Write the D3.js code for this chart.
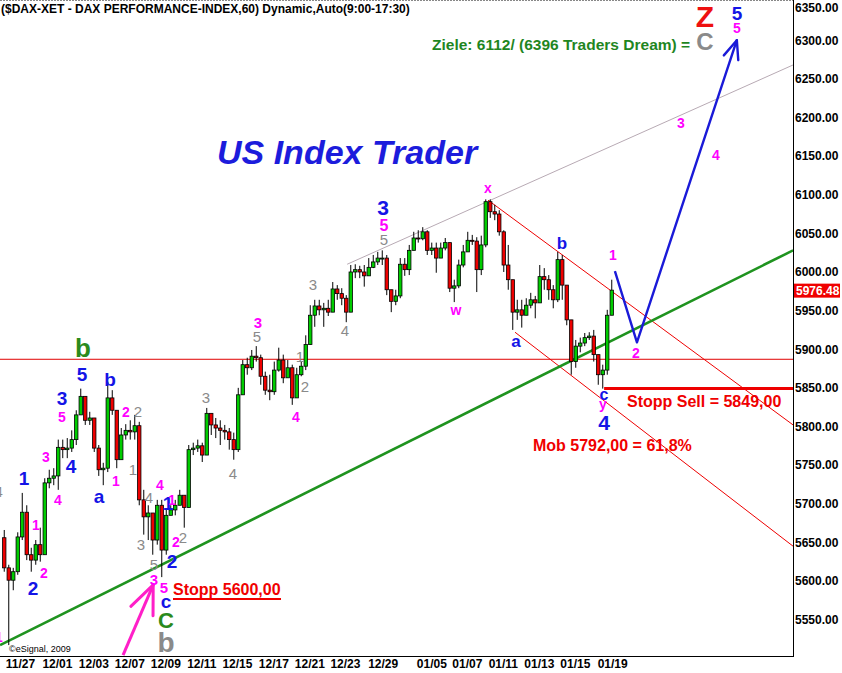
<!DOCTYPE html>
<html><head><meta charset="utf-8">
<script src="https://cdn.jsdelivr.net/npm/d3@7/dist/d3.min.js"></script>
<style>
body{margin:0;background:#fff}
svg{display:block}
text{font-family:Arial,"Liberation Sans",sans-serif}
</style>
</head><body>
<svg id="chart" width="842" height="673"></svg>
<script>
// ---------- DATA (hourly candles, DAX) ----------
const opens=[5656,5617,5601,5612,5657,5689,5634,5627,5647,5634,
5727,5733,5736,5773,5770,5772,5783,5815,5839,5808,
5811,5772,5744,5746,5837,5821,5757,5789,5795,5793,
5801,5705,5683,5688,5653,5698,5640,5685,5692,5698,
5711,5695,5770,5772,5775,5763,5817,5802,5798,5795,
5793,5783,5770,5841,5880,5876,5891,5889,5865,5847,
5845,5873,5886,5863,5876,5837,5867,5878,5906,5944,
5956,5951,5953,5948,5978,5972,5966,5948,6000,6003,
6000,5995,6006,6013,6018,6018,5977,5962,5969,6010,
6003,6028,6044,6043,6052,6028,6031,6018,6031,6038,
5979,5982,6009,6026,6041,6040,6003,6035,6091,6078,
6075,6052,6009,5990,5948,5951,5944,5957,5964,5960,
5994,5990,5977,5964,6016,5983,5938,5884,5904,5908,
5915,5917,5893,5867,5873,5944];
const highs=[5666,5621,5617,5663,5714,5698,5643,5653,5669,5733,
5744,5746,5783,5783,5785,5795,5821,5849,5834,5819,
5808,5776,5753,5858,5847,5819,5798,5803,5808,5815,
5806,5718,5698,5679,5705,5705,5692,5698,5705,5718,
5711,5776,5779,5783,5779,5824,5815,5811,5808,5802,
5798,5792,5850,5886,5889,5899,5904,5893,5871,5867,
5884,5902,5893,5886,5880,5876,5884,5918,5957,5964,
5964,5960,5964,5987,5983,5979,5970,6009,6010,6008,
6009,6018,6022,6026,6028,6022,5977,5977,6018,6018,
6035,6052,6054,6058,6054,6038,6038,6038,6044,6038,
5990,6016,6035,6052,6048,6045,6047,6094,6094,6087,
6080,6054,6035,5983,5964,5964,5966,5973,5969,6009,
6005,5996,5983,6026,6022,5970,5938,5912,5915,5921,
5922,5925,5893,5880,5951,5990];
const lows=[5612,5517,5588,5608,5653,5627,5612,5621,5625,5634,
5720,5724,5718,5759,5759,5767,5776,5815,5802,5802,
5767,5736,5724,5741,5815,5746,5772,5783,5783,5783,
5698,5660,5653,5634,5647,5605,5634,5685,5685,5698,
5669,5698,5763,5767,5754,5802,5789,5785,5776,5783,
5770,5757,5767,5845,5867,5873,5884,5854,5841,5834,
5841,5871,5856,5863,5828,5858,5865,5873,5916,5929,
5944,5929,5943,5964,5964,5957,5935,5948,5992,5992,
5981,6000,6005,6009,6009,5970,5948,5957,5966,5995,
5996,6028,6038,6041,6022,6022,5999,6022,6028,5974,
5961,5979,6006,6026,6035,5974,5996,6032,6070,6067,
6047,6000,5977,5925,5938,5928,5948,5953,5940,5983,
5977,5964,5953,5961,5964,5931,5867,5876,5896,5904,
5912,5884,5854,5849,5867,5944];
const closes=[5617,5601,5612,5657,5689,5634,5627,5647,5634,5727,
5733,5736,5773,5770,5772,5783,5815,5839,5808,5811,
5772,5744,5746,5837,5821,5757,5789,5795,5793,5801,
5705,5683,5688,5653,5698,5640,5685,5692,5698,5711,
5695,5770,5772,5775,5763,5817,5802,5798,5795,5793,
5783,5770,5841,5880,5876,5891,5889,5865,5847,5845,
5873,5886,5863,5876,5837,5867,5878,5906,5944,5956,
5951,5953,5948,5978,5972,5966,5948,6000,6003,6000,
5995,6006,6013,6018,6018,5977,5962,5969,6010,6003,
6028,6044,6043,6052,6028,6031,6018,6031,6038,5979,
5982,6009,6026,6041,6040,6003,6035,6091,6078,6075,
6052,6009,5990,5948,5951,5944,5957,5964,5960,5994,
5990,5977,5964,6016,5983,5938,5884,5904,5908,5915,
5917,5893,5867,5873,5944,5976.48];

const priceTicks=[5550,5600,5650,5700,5750,5800,5850,5900,5950,6000,6050,6100,6150,6200,6250,6300,6350];
const dateLabels=["11/27","12/01","12/03","12/07","12/09","12/11","12/15","12/17","12/21","12/23","12/29","01/05","01/07","01/11","01/13","01/15","01/19"];
const dateBars=[4.0,12.2,20.3,28.3,36.3,44.3,52.2,60.3,68.3,76.2,84.6,95.4,103.3,111.3,119.3,127.3,135.6];

const lastPrice=5976.48;
const stopSell=5849;
const horizLevel=5887;
// trend / channel lines in [bar, value] coordinates
const greenTrend=[[-0.44,5517],[175.8,6028]];
const grayChannel=[[76.7,6010],[175.8,6268]];
const redUpper=[[108,6093],[175.8,5802]];
const redLower=[[114,5922],[175.8,5645]];
const stopSellStart=133.8;
const projection=[[136.2,6001],[141.1,5909],[163.3,6300]];
const pinkArrow=[[26.9,5504],[33.6,5595]];

// ---------- LAYOUT ----------
const plotR=793, plotB=656;
const svg=d3.select("#chart");
const x=d3.scaleLinear().domain([0,136]).range([2,614]);
const y=d3.scaleLinear().domain([5550,6350]).range([619.6,1.6]);

svg.append("rect").attr("width",842).attr("height",673).attr("fill","#fff");
svg.append("defs").append("clipPath").attr("id","plot")
  .append("rect").attr("x",0).attr("y",0).attr("width",plotR).attr("height",plotB);

const g=svg.append("g").attr("clip-path","url(#plot)");

// horizontal red level
g.append("line").attr("x1",0).attr("x2",plotR).attr("y1",y(horizLevel)).attr("y2",y(horizLevel))
  .attr("stroke","#e00000").attr("stroke-width",1);

const line=d3.line().x(d=>x(d[0])).y(d=>y(d[1]));
g.append("path").attr("d",line(grayChannel)).attr("fill","none").attr("stroke","#b8aab4").attr("stroke-width",1);
g.append("path").attr("d",line(redUpper)).attr("fill","none").attr("stroke","#ee0000").attr("stroke-width",1);
g.append("path").attr("d",line(redLower)).attr("fill","none").attr("stroke","#ee0000").attr("stroke-width",1);
g.append("path").attr("d",line(greenTrend)).attr("fill","none").attr("stroke","#1f931f").attr("stroke-width",2.6);

// stop sell thick line
g.append("line").attr("x1",x(stopSellStart)).attr("x2",plotR).attr("y1",y(stopSell)).attr("y2",y(stopSell))
  .attr("stroke","#ee0000").attr("stroke-width",3);

// candles
const bars=closes.map((c,i)=>({i,o:opens[i],h:highs[i],l:lows[i],c}));
const cg=g.append("g");
const bw=3.4;
cg.selectAll("line.w").data(bars).join("line").attr("class","w")
  .attr("x1",d=>x(d.i+0.5)).attr("x2",d=>x(d.i+0.5))
  .attr("y1",d=>y(Math.max(d.h,d.o,d.c))).attr("y2",d=>y(Math.min(d.l,d.o,d.c)))
  .attr("stroke","#000").attr("stroke-width",1);
cg.selectAll("rect.b").data(bars).join("rect").attr("class","b")
  .attr("x",d=>x(d.i+0.5)-bw/2).attr("width",bw)
  .attr("y",d=>y(Math.max(d.o,d.c)))
  .attr("height",d=>Math.max(1,Math.abs(y(d.o)-y(d.c))))
  .attr("fill",d=>d.c>=d.o?"#00cc00":"#ee0000")
  .attr("stroke","#000").attr("stroke-width",0.8);

// arrows
function arrow(pts,color,width,barb,ang){
  g.append("path").attr("d",line(pts)).attr("fill","none").attr("stroke",color)
   .attr("stroke-width",width).attr("stroke-linejoin","round");
  const a=pts[pts.length-1], b=pts[pts.length-2];
  const tx=x(a[0]),ty=y(a[1]),bx=x(b[0]),by=y(b[1]);
  const th=Math.atan2(by-ty,bx-tx);
  [ang,-ang].forEach(s=>{
    g.append("line").attr("x1",tx).attr("y1",ty)
     .attr("x2",tx+barb*Math.cos(th+s)).attr("y2",ty+barb*Math.sin(th+s))
     .attr("stroke",color).attr("stroke-width",width).attr("stroke-linecap","round");
  });
}
arrow(projection,"#1a1ad8",2.4,20,0.39);
arrow(pinkArrow,"#ff1fc8",3,31,0.4);

// frame
svg.append("line").attr("x1",0).attr("x2",plotR).attr("y1",0.5).attr("y2",0.5)
  .attr("stroke","#888").attr("stroke-dasharray","2,1");
svg.append("line").attr("x1",plotR+0.5).attr("x2",plotR+0.5).attr("y1",0).attr("y2",plotB+1)
  .attr("stroke","#000");
svg.append("line").attr("x1",0).attr("x2",plotR+1).attr("y1",plotB+0.5).attr("y2",plotB+0.5)
  .attr("stroke","#000");

// right axis
const ya=svg.append("g").attr("transform",`translate(${plotR},0)`)
  .call(d3.axisRight(y).tickValues(priceTicks).tickSize(0).tickPadding(2).tickFormat(d3.format(".2f")));
ya.select(".domain").remove();
ya.selectAll("text").attr("font-size",12).attr("font-weight","bold").attr("fill","#000")
  .attr("font-family","Arial, 'Liberation Sans', sans-serif");
ya.selectAll(".tick").filter(d=>y(d)<8).attr("transform","translate(0,8)");

// last price box
svg.append("rect").attr("x",plotR+1).attr("y",y(lastPrice)-6.5).attr("width",46).attr("height",14).attr("fill","#f00000");
svg.append("text").attr("x",plotR+3).attr("y",y(lastPrice)+5).text(d3.format(".2f")(lastPrice))
  .attr("fill","#fff").attr("font-size",12).attr("font-weight","bold");

// bottom axis
const xa=svg.append("g").attr("transform",`translate(0,${plotB})`)
  .call(d3.axisBottom(x).tickValues(dateBars).tickSize(0).tickPadding(3.5).tickFormat((d,i)=>dateLabels[i]));
xa.select(".domain").remove();
xa.selectAll("text").attr("font-size",12).attr("font-weight","bold").attr("fill","#000")
  .attr("font-family","Arial, 'Liberation Sans', sans-serif");

// title
svg.append("text").attr("x",1).attr("y",13).attr("font-size",12).attr("font-weight","bold")
  .text("($DAX-XET - DAX PERFORMANCE-INDEX,60) Dynamic,Auto(9:00-17:30)");

// big texts
svg.append("text").attr("x",217).attr("y",164).attr("font-size",34).attr("font-weight","bold")
  .attr("font-style","italic").attr("fill","#1c1cdc").text("US Index Trader");
svg.append("text").attr("x",432).attr("y",50).attr("font-size",15.5).attr("font-weight","bold")
  .attr("fill","#1f861f").text("Ziele: 6112/ (6396 Traders Dream) =");
svg.append("text").attr("x",627).attr("y",407).attr("font-size",16).attr("font-weight","bold")
  .attr("fill","#f00000").text("Stopp Sell = 5849,00");
svg.append("text").attr("x",533).attr("y",451).attr("font-size",16).attr("font-weight","bold")
  .attr("fill","#f00000").text("Mob 5792,00 = 61,8%");
svg.append("text").attr("x",173).attr("y",595).attr("font-size",16).attr("font-weight","bold")
  .attr("fill","#f00000").text("Stopp 5600,00");
svg.append("line").attr("x1",173).attr("x2",281).attr("y1",599).attr("y2",599)
  .attr("stroke","#f00000").attr("stroke-width",2);
svg.append("text").attr("x",9).attr("y",652).attr("font-size",9).attr("fill","#000").text("\u00A9eSignal, 2009");

// wave labels [text, x, baseline y, colour, size, weight]
const C={b:"#1414e6",p:"#ff00ff",g:"#8a8a8a",G:"#2b8a1c",r:"#ee1010"};
const labels=[
 ["1",24,485,"b",19,"bold"],["2",33,595,"b",19,"bold"],["4",71,473,"b",19,"bold"],
 ["3",62,405,"b",19,"bold"],["5",82,381,"b",19,"bold"],["a",99,503,"b",19,"bold"],
 ["b",110,386,"b",19,"bold"],["1",168,510,"b",19,"bold"],["2",172,568,"b",19,"bold"],
 ["c",166,608,"b",19,"bold"],["3",383,215,"b",21,"bold"],["a",516,347,"b",17,"bold"],
 ["b",562,249,"b",17,"bold"],["c",604,400,"b",16,"bold"],["4",604,430,"b",21,"bold"],
 ["5",737,20,"b",19,"bold"],
 ["1",36,530,"p",14,"bold"],["2",44,578,"p",14,"bold"],["3",46,462,"p",14,"bold"],
 ["4",58,505,"p",14,"bold"],["5",62,422,"p",14,"bold"],["1",116,486,"p",14,"bold"],
 ["2",126,417,"p",14,"bold"],["4",160,490,"p",14,"bold"],["1",172,505,"p",14,"bold"],
 ["2",176,547,"p",14,"bold"],["3",154,585,"p",15,"bold"],["5",164,593,"p",15,"bold"],
 ["3",258,328,"p",15,"bold"],["4",296,422,"p",14,"bold"],["5",384,231,"p",16,"bold"],
 ["w",456,315,"p",14,"bold"],["x",488,193,"p",14,"bold"],["1",613,260,"p",14,"bold"],
 ["2",636,358,"p",14,"bold"],["y",603,409,"p",14,"bold"],["3",681,128,"p",14,"bold"],
 ["4",716,160,"p",14,"bold"],["5",737,33,"p",14,"bold"],["1",-1,642,"p",14,"bold"],
 ["4",-1,497,"g",14,"normal"],["2",138,417,"g",15,"normal"],["1",133,475,"g",15,"normal"],
 ["4",149,503,"g",15,"normal"],["3",141,550,"g",15,"normal"],["5",154,570,"g",15,"normal"],
 ["2",183,543,"g",15,"normal"],["3",206,403,"g",15,"normal"],["4",233,479,"g",15,"normal"],
 ["5",257,342,"g",15,"normal"],["1",300,362,"g",15,"normal"],["2",305,392,"g",15,"normal"],
 ["3",313,290,"g",15,"normal"],["4",345,336,"g",15,"normal"],["5",384,245,"g",15,"normal"],
 ["b",83,357,"G",26,"bold"],["C",166,628,"G",22,"bold"],
 ["b",166,652,"g",28,"bold"],["C",705,50,"g",24,"bold"],
 ["Z",705,27,"r",30,"bold"]
];
svg.append("g").selectAll("text").data(labels).join("text")
  .attr("x",d=>d[1]).attr("y",d=>d[2]).attr("text-anchor","middle")
  .attr("fill",d=>C[d[3]]).attr("font-size",d=>d[4]).attr("font-weight",d=>d[5])
  .text(d=>d[0]);
</script>
</body></html>
